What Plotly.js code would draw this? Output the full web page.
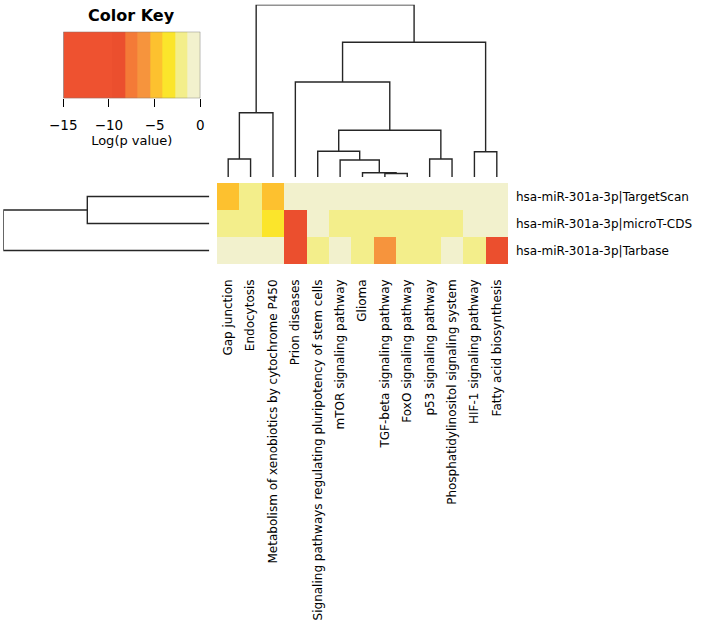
<!DOCTYPE html>
<html>
<head>
<meta charset="utf-8">
<script src="https://cdn.plot.ly/plotly-3.0.1.min.js"></script>
<style>
  html, body { margin: 0; padding: 0; background: #fff; }
  #chart { width: 703px; height: 631px; }
</style>
</head>
<body>
<div id="chart"></div>
<script>
/* miRNA pathway heatmap (heatmap.2 style): key, column/row dendrograms, cells. */

const pathways = [
  "Gap junction", "Endocytosis", "Metabolism of xenobiotics by cytochrome P450",
  "Prion diseases", "Signaling pathways regulating pluripotency of stem cells",
  "mTOR signaling pathway", "Glioma", "TGF-beta signaling pathway",
  "FoxO signaling pathway", "p53 signaling pathway",
  "Phosphatidylinositol signaling system", "HIF-1 signaling pathway",
  "Fatty acid biosynthesis",
];
const sources = [
  "hsa-miR-301a-3p|TargetScan",
  "hsa-miR-301a-3p|microT-CDS",
  "hsa-miR-301a-3p|Tarbase",
];

// log(p value) per source, in pathway order
const targetScan = [-4.6, -2.0, -4.8, -0.5, -0.5, -0.5, -0.5, -0.5, -0.5, -0.5, -0.5, -0.5, -0.5];
const microTCDS  = [-2.0, -2.0, -3.5, -9.0, -0.5, -2.1, -2.1, -2.1, -2.1, -2.1, -2.0, -0.5, -0.5];
const tarbase    = [-0.5, -0.5, -0.5, -9.0, -2.0, -0.5, -2.0, -6.0, -2.0, -2.0, -0.5, -2.0, -9.0];

// colour key breaks and bin colours
const breaks = [-15, -9.6, -8.23, -6.86, -5.49, -4.12, -2.75, -1.37, 0];
const binColors = ["#EE5230", "#EB4F2E", "#F47A37", "#F6943D", "#FDC12F", "#FBE52B", "#F3EE8B", "#F2F1CD"];
const keyTicks = [-15, -10, -5, 0];

// hclust-style merges: negative = leaf (1-based), positive = earlier merge
const colMerges = [[-1, -2], [1, -3], [-8, -9], [-7, 3], [-6, 4], [-5, 5],
                   [-10, -11], [6, 7], [-4, 8], [-12, -13], [9, 10], [2, 11]];
const colHeights = [1.8, 6.43, 0.35, 0.43, 1.7, 2.57, 1.8, 4.67, 9.5, 2.53, 13.47, 17.23];
const rowMerges = [[-1, -2], [1, -3]];
const rowHeights = [12.2, 20.6];

const INK = "#262626";
const FONT = "DejaVu Sans, sans-serif";
const W = 703, H = 631;
const px = (a, b) => [a / W, b / W];
const py = (top, bot) => [1 - bot / H, 1 - top / H];

// stepped colourscale over [-15, 0]
const lo = breaks[0], hi = breaks[breaks.length - 1];
const scale = [];
binColors.forEach((c, i) => {
  scale.push([(breaks[i] - lo) / (hi - lo), c]);
  scale.push([(breaks[i + 1] - lo) / (hi - lo), c]);
});

// walk the merges into U-shaped segments (pos along leaves, height)
function dendro(merges, heights) {
  const pos = [], hs = [], P = [], Q = [];
  const at = (m) => m < 0 ? [-m - 1, 0] : [pos[m - 1], hs[m - 1]];
  merges.forEach((m, i) => {
    const [p1, h1] = at(m[0]), [p2, h2] = at(m[1]), h = heights[i];
    P.push(p1, p1, p2, p2, null); Q.push(h1, h, h, h2, null);
    pos.push((p1 + p2) / 2); hs.push(h);
  });
  return { P, Q };
}

const cd = dendro(colMerges, colHeights);
const rd = dendro(rowMerges, rowHeights);
const keyMid = breaks.slice(0, -1).map((b, i) => (b + breaks[i + 1]) / 2);

const data = [
  { type: "heatmap", z: [targetScan, microTCDS, tarbase],
    x: pathways.map((_, i) => i), y: sources.map((_, i) => i),
    colorscale: scale, zmin: lo, zmax: hi, showscale: false, hoverinfo: "skip",
    xaxis: "x", yaxis: "y" },
  { type: "scatter", mode: "lines", x: cd.P, y: cd.Q, connectgaps: false,
    line: { color: INK, width: 1.4 }, hoverinfo: "skip", xaxis: "x2", yaxis: "y2" },
  { type: "scatter", mode: "lines", x: rd.Q, y: rd.P, connectgaps: false,
    line: { color: INK, width: 1.4 }, hoverinfo: "skip", xaxis: "x3", yaxis: "y3" },
  { type: "heatmap", z: [keyMid], x: breaks, y: [0, 1],
    colorscale: scale, zmin: lo, zmax: hi, showscale: false, hoverinfo: "skip",
    xaxis: "x4", yaxis: "y4" },
];

const hidden = { visible: false, showgrid: false, zeroline: false, fixedrange: true };

const layout = {
  width: W, height: H,
  paper_bgcolor: "#fff", plot_bgcolor: "rgba(0,0,0,0)",
  margin: { l: 0, r: 0, t: 0, b: 0 },
  showlegend: false,
  font: { family: FONT, size: 12, color: "#000" },
  xaxis: { domain: px(217, 508), range: [-0.5, 12.5], anchor: "y",
           tickvals: pathways.map((_, i) => i), ticktext: pathways,
           tickangle: -90, ticks: "", showgrid: false, zeroline: false,
           showline: false, ticklabelstandoff: 12, tickfont: { size: 12 } },
  yaxis: { domain: py(183, 264), range: [2.5, -0.5], anchor: "x", side: "right",
           tickvals: sources.map((_, i) => i), ticktext: sources,
           ticks: "", showgrid: false, zeroline: false, showline: false,
           ticklabelstandoff: 7, tickfont: { size: 12 } },
  xaxis2: Object.assign({}, hidden, { domain: px(217, 508), range: [-0.5, 12.5], anchor: "y2" }),
  yaxis2: Object.assign({}, hidden, { domain: py(4.7, 177), range: [0, 17.23], anchor: "x2" }),
  xaxis3: Object.assign({}, hidden, { domain: px(3.3, 209.3), range: [20.6, 0], anchor: "y3" }),
  yaxis3: Object.assign({}, hidden, { domain: py(183, 264), range: [2.5, -0.5], anchor: "x3" }),
  xaxis4: { domain: px(63.3, 200.3), range: [-15, 0], anchor: "y4",
            tickvals: keyTicks, ticks: "outside", ticklen: 8, tickcolor: "#000",
            tickwidth: 1, showgrid: false, zeroline: false, showline: false,
            ticklabelstandoff: 6, tickfont: { size: 13.5 },
            title: { text: "Log(p value)", font: { size: 13 }, standoff: 4 } },
  yaxis4: Object.assign({}, hidden, { domain: py(31.7, 98.3), range: [0, 1], anchor: "x4" }),
  shapes: [
    { type: "rect", xref: "x4", yref: "y4", x0: -15, x1: 0, y0: 0, y1: 1,
      line: { color: "#777", width: 1 } },
  ],
  annotations: [
    { text: "<b>Color Key</b>", xref: "paper", yref: "paper",
      x: 131.7 / W, y: 1 - 15.7 / H, xanchor: "center", yanchor: "middle",
      showarrow: false, font: { size: 16, color: "#000" } },
  ],
};

Plotly.newPlot("chart", data, layout, { displayModeBar: false, staticPlot: true });
</script>
</body>
</html>
